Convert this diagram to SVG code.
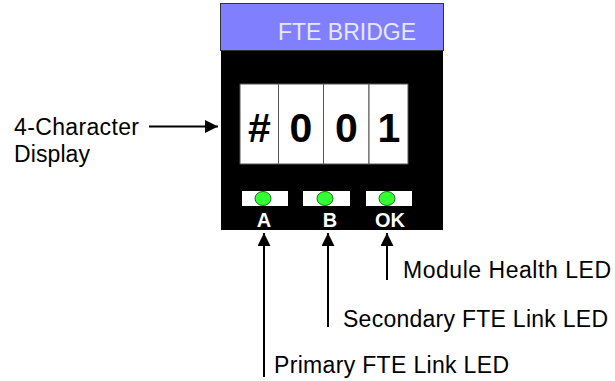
<svg xmlns="http://www.w3.org/2000/svg" width="615" height="381" viewBox="0 0 615 381">
<style>
.lbl{font-family:"Liberation Sans",Arial,sans-serif;font-size:23px;fill:#000}
.dig{font-family:"Liberation Sans",Arial,sans-serif;font-size:41px;font-weight:bold;fill:#000;text-anchor:middle}
.led{font-family:"Liberation Sans",Arial,sans-serif;font-size:20px;font-weight:bold;fill:#fff;text-anchor:middle}
.cell{fill:#fff;stroke:#555;stroke-width:1}
.bar{fill:#fff}
.dot{fill:#33ff33;stroke:#1a6e1a;stroke-width:1}
.conn{stroke:#000;stroke-width:2;fill:none}
</style>
<defs>
<marker id="ah" viewBox="0 0 10 10" refX="10" refY="5" markerWidth="8" markerHeight="6.5" markerUnits="strokeWidth" orient="auto">
<path d="M0,0 L10,5 L0,10 z" fill="#000"/>
</marker>
</defs>
<g id="bridge">
<rect x="221" y="50" width="222" height="180" fill="#000"/>
<rect x="220.5" y="3.5" width="223" height="47" fill="#8080ff" stroke="#333" stroke-width="1"/>
<text x="347" y="40" font-family="Liberation Sans,Arial,sans-serif" font-size="23" fill="#e8e8ff" text-anchor="middle">FTE BRIDGE</text>
</g>
<g id="display">
<rect class="cell" x="240" y="84" width="38.5" height="80"/>
<rect class="cell" x="278.5" y="84" width="45" height="80"/>
<rect class="cell" x="323.5" y="84" width="45.5" height="80"/>
<rect class="cell" x="369" y="84" width="39" height="80"/>
<text class="dig" x="259.5" y="142">#</text>
<text class="dig" x="301" y="142">0</text>
<text class="dig" x="346.5" y="142">0</text>
<text class="dig" x="389" y="142">1</text>
</g>
<g id="led-a">
<rect class="bar" x="242" y="191" width="46" height="15"/>
<ellipse class="dot" cx="263" cy="198.5" rx="8" ry="7"/>
<text class="led" x="264" y="227">A</text>
</g>
<g id="led-b">
<rect class="bar" x="303" y="191" width="47" height="15"/>
<ellipse class="dot" cx="325" cy="198.5" rx="8" ry="7"/>
<text class="led" x="330" y="227">B</text>
</g>
<g id="led-ok">
<rect class="bar" x="366" y="191" width="46" height="15"/>
<ellipse class="dot" cx="387" cy="198.5" rx="8" ry="7"/>
<text class="led" x="390" y="227">OK</text>
</g>
<g id="connectors">
<line class="conn" x1="149" y1="126.5" x2="218" y2="126.5" marker-end="url(#ah)"/>
<line class="conn" x1="264" y1="377" x2="264" y2="233" marker-end="url(#ah)"/>
<line class="conn" x1="328" y1="327" x2="328" y2="233" marker-end="url(#ah)"/>
<line class="conn" x1="387" y1="280" x2="387" y2="233" marker-end="url(#ah)"/>
</g>
<g id="labels">
<text class="lbl" x="14" y="135" textLength="125" lengthAdjust="spacing">4-Character</text>
<text class="lbl" x="14" y="162" textLength="76" lengthAdjust="spacing">Display</text>
<text class="lbl" x="403" y="278" textLength="208" lengthAdjust="spacing">Module Health LED</text>
<text class="lbl" x="343" y="326.5" textLength="265" lengthAdjust="spacing">Secondary FTE Link LED</text>
<text class="lbl" x="274" y="373" textLength="235" lengthAdjust="spacing">Primary FTE Link LED</text>
</g>
</svg>
